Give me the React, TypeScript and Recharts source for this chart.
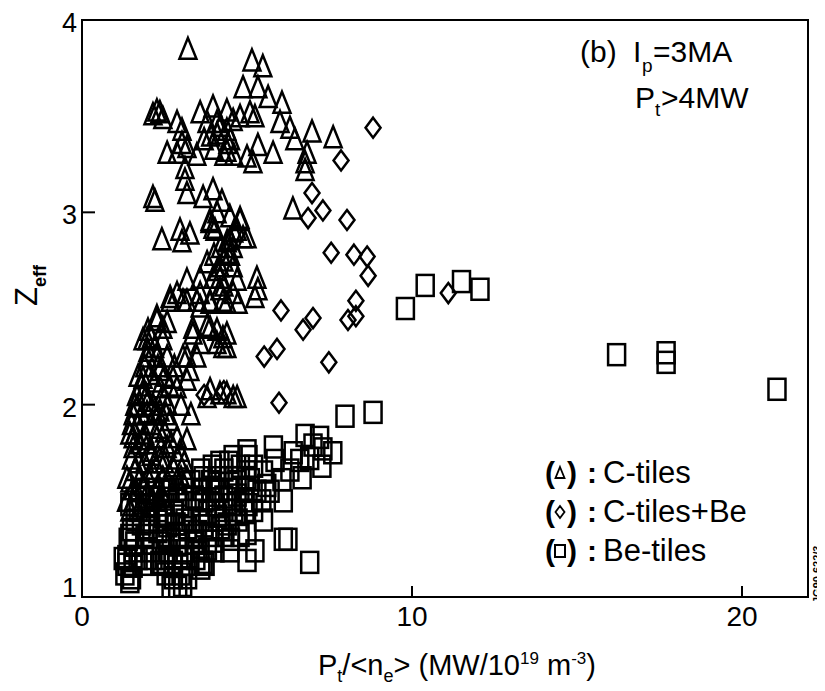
import React from 'react';
import {
  ScatterChart,
  Scatter,
  XAxis,
  YAxis,
  ReferenceArea,
  Legend,
} from 'recharts';

// Zeff versus Pt/<ne> at Ip = 3 MA, Pt > 4 MW, by first-wall configuration.

const xTicks = [0, 10, 20];
const yTicks = [1, 2, 3, 4];

// C-tiles (triangles)
const cTiles: [number, number][] = [
  [3.21, 3.85], [5.15, 3.79], [5.48, 3.76], [4.88, 3.65], [5.33, 3.65], [5.64, 3.6], [6.06, 3.57],
  [6.0, 3.47], [6.3, 3.44], [6.45, 3.38], [6.97, 3.42], [7.61, 3.39], [6.82, 3.31], [6.76, 3.26],
  [6.76, 3.22], [5.79, 3.31], [5.33, 3.35], [5.18, 3.26], [5.0, 3.29],
  [2.27, 3.53], [2.36, 3.52], [2.15, 3.51], [2.45, 3.49], [2.88, 3.47], [3.03, 3.43], [3.58, 3.52],
  [3.97, 3.55], [4.39, 3.53], [4.58, 3.48], [4.09, 3.47], [3.79, 3.47], [4.79, 3.5], [5.09, 3.52],
  [5.24, 3.5], [4.39, 3.43], [4.09, 3.41], [4.42, 3.36], [4.39, 3.32],
  [3.9, 3.4], [4.2, 3.45], [4.5, 3.38], [3.7, 3.38], [4.3, 3.3], [4.6, 3.3], [4.0, 3.33],
  [2.58, 3.31], [2.88, 3.31], [3.18, 3.34], [3.48, 3.3], [3.03, 3.36], [3.12, 3.23], [3.12, 3.17],
  [3.18, 3.1], [2.15, 3.08], [2.21, 3.06], [3.67, 3.08], [3.97, 3.12], [4.24, 3.06], [6.39, 3.02],
  [2.42, 2.86], [2.97, 2.91], [3.27, 2.89], [3.03, 2.85], [3.88, 2.95], [4.09, 3.0], [4.03, 2.91],
  [4.48, 2.98], [4.79, 2.96], [4.7, 2.91], [5.0, 2.87], [4.48, 2.86], [4.39, 2.79], [4.18, 2.72],
  [3.79, 2.74], [3.97, 2.66], [4.58, 2.72], [4.7, 2.65], [5.3, 2.66], [5.33, 2.6], [5.24, 2.56],
  [3.97, 2.92], [3.88, 2.96], [4.79, 2.97], [4.88, 2.87], [4.58, 2.82], [3.58, 2.66], [4.18, 2.66],
  [4.3, 2.75], [4.4, 2.85], [4.5, 2.78], [4.6, 2.9], [4.2, 2.82], [4.1, 2.7], [4.3, 2.62], [4.0, 2.78],
  [3.18, 2.65], [2.88, 2.58], [2.67, 2.56], [3.18, 2.54], [3.58, 2.58], [3.88, 2.54], [4.18, 2.6],
  [4.58, 2.58], [4.39, 2.53], [3.58, 2.51], [2.27, 2.46], [2.58, 2.43], [2.0, 2.39], [1.85, 2.34],
  [3.36, 2.4], [3.79, 2.41], [4.09, 2.39], [4.39, 2.37],
  [2.67, 2.54], [3.06, 2.54], [3.48, 2.54], [3.88, 2.53], [4.27, 2.54], [4.73, 2.53],
  [2.27, 2.44], [2.45, 2.4], [1.97, 2.34], [2.45, 2.34], [3.36, 2.37], [3.88, 2.4], [4.27, 2.35],
  [4.27, 2.3], [1.97, 2.25], [2.58, 2.25], [3.06, 2.25], [3.48, 2.25], [2.06, 2.16], [2.36, 2.18],
  [3.27, 2.18], [1.85, 2.06], [2.36, 2.09], [2.88, 2.09], [3.88, 2.08], [4.39, 2.06], [4.7, 2.04],
  [2.27, 2.25], [3.18, 2.25], [3.58, 2.32], [4.09, 2.32], [4.39, 2.3], [1.85, 2.14], [2.76, 2.14],
  [3.18, 2.13], [3.79, 2.04], [4.58, 2.04], [4.18, 2.06],
  [1.67, 1.99], [1.97, 1.96], [2.36, 1.97], [2.67, 1.92], [1.55, 1.83], [1.85, 1.82], [2.27, 1.83],
  [2.88, 1.83], [3.18, 1.82], [1.55, 1.78], [2.06, 1.76], [2.58, 1.78], [2.97, 1.76],
  [1.6, 2.0], [1.7, 1.9], [1.8, 1.95], [2.0, 2.02], [2.1, 1.9], [2.2, 1.95], [2.3, 1.88], [2.5, 1.86],
  [2.6, 2.0], [1.9, 1.85], [2.0, 1.8], [2.4, 1.78], [2.7, 1.8], [1.5, 1.72], [1.7, 1.7], [2.2, 1.7],
  [2.5, 1.7], [2.9, 1.72], [1.8, 2.1], [2.2, 2.12], [2.5, 2.15], [2.3, 2.2], [3.0, 2.0], [3.3, 1.95],
  [1.36, 1.62], [1.76, 1.62], [2.15, 1.65], [2.45, 1.62], [2.88, 1.61], [3.18, 1.62], [1.55, 1.56],
  [1.97, 1.54], [1.45, 1.45], [1.76, 1.47], [2.15, 1.5],
  [1.5, 1.9], [1.6, 1.85], [1.65, 2.05], [1.75, 1.8], [1.55, 1.95], [1.45, 1.85], [1.7, 2.15],
  [1.9, 2.2], [2.0, 2.28], [2.1, 2.35], [2.2, 2.3], [1.95, 2.05], [2.15, 2.0], [2.3, 1.95],
  [2.45, 2.05], [2.55, 1.95], [2.65, 2.1], [2.8, 2.2], [2.35, 1.72], [2.1, 1.74], [1.9, 1.7],
  [1.6, 1.66], [1.45, 1.6], [1.55, 1.5], [1.65, 1.55], [1.85, 1.58], [2.0, 1.62], [2.3, 1.58],
  [2.6, 1.6], [2.75, 1.68], [3.0, 1.62], [3.1, 1.7], [2.05, 1.45], [2.3, 1.5], [1.35, 1.5],
  [2.45, 1.52],
];

// C-tiles + Be (diamonds)
const cTilesBe: [number, number][] = [
  [8.82, 3.44], [7.85, 3.27], [6.97, 3.1], [7.3, 3.01], [6.85, 2.97], [8.03, 2.96], [7.55, 2.79],
  [8.24, 2.78], [8.64, 2.77], [8.67, 2.67], [8.3, 2.54], [8.3, 2.46], [8.06, 2.44], [6.03, 2.49],
  [7.0, 2.45], [6.7, 2.39], [5.91, 2.29], [5.52, 2.25], [7.48, 2.22], [5.97, 2.01], [11.1, 2.58],
  [3.7, 2.05], [4.3, 2.07],
];

// Be-tiles (squares)
const beTiles: [number, number][] = [
  [16.2, 2.26], [17.7, 2.27], [17.7, 2.22], [21.06, 2.08], [9.8, 2.5], [10.4, 2.62], [11.5, 2.64],
  [12.06, 2.6],
  [7.97, 1.94], [8.82, 1.96], [6.76, 1.84], [7.2, 1.83], [7.0, 1.79], [7.6, 1.75], [7.27, 1.68],
  [5.8, 1.78], [5.85, 1.71], [6.6, 1.71], [6.67, 1.62], [6.06, 1.61], [6.1, 1.5], [5.45, 1.5],
  [6.1, 1.3], [6.24, 1.3], [6.9, 1.18], [5.24, 1.24], [5.0, 1.19], [5.03, 1.73], [5.1, 1.61],
  [4.94, 1.44], [5.0, 1.33],
  [1.5, 1.1], [1.36, 1.21], [1.55, 1.24], [2.77, 1.1], [2.77, 1.18], [2.36, 1.18], [3.2, 1.1],
  [3.67, 1.18], [3.58, 1.24],
  [4.18, 1.7], [4.58, 1.73], [5.0, 1.76], [3.67, 1.62], [4.09, 1.62], [4.58, 1.62], [5.0, 1.62],
  [1.76, 1.56], [2.21, 1.56], [2.67, 1.56], [3.12, 1.56], [3.58, 1.56], [4.03, 1.56], [4.48, 1.56],
  [4.94, 1.56],
  [1.45, 1.48], [2.06, 1.48], [2.52, 1.48], [2.97, 1.48], [3.58, 1.48], [4.03, 1.48], [4.55, 1.48],
  [5.03, 1.48],
  [1.61, 1.4], [2.06, 1.4], [2.52, 1.4], [3.12, 1.4], [3.58, 1.4], [4.18, 1.4], [4.73, 1.4],
  [1.45, 1.32], [1.91, 1.32], [2.52, 1.32], [2.97, 1.32], [3.42, 1.32], [3.88, 1.32], [4.33, 1.32],
  [4.79, 1.32],
  [2.06, 1.24], [2.61, 1.24], [3.12, 1.24], [4.03, 1.24], [4.48, 1.24],
  [1.36, 1.17], [1.91, 1.17], [2.36, 1.17], [2.76, 1.17], [3.27, 1.17], [3.73, 1.17],
  [1.7, 1.45], [2.3, 1.43], [2.8, 1.44], [3.3, 1.45], [3.8, 1.44], [4.3, 1.45], [2.0, 1.36],
  [2.6, 1.37], [3.2, 1.36], [3.7, 1.37], [4.2, 1.36], [1.9, 1.28], [2.4, 1.28], [2.9, 1.27],
  [3.4, 1.28], [4.0, 1.29], [4.5, 1.3], [2.2, 1.52], [2.9, 1.53], [3.4, 1.52], [3.9, 1.51],
  [4.3, 1.52], [4.7, 1.53], [5.3, 1.55], [5.5, 1.65], [5.6, 1.58], [5.2, 1.68], [6.3, 1.66],
  [6.4, 1.75], [6.9, 1.72], [7.3, 1.77], [3.0, 1.12], [2.55, 1.12], [3.45, 1.2], [3.9, 1.6],
  [4.3, 1.66], [4.8, 1.68], [1.3, 1.12], [1.4, 1.3], [1.55, 1.16],
  [1.5, 1.35], [1.7, 1.2], [1.8, 1.38], [2.15, 1.2], [2.3, 1.34], [2.5, 1.2], [2.7, 1.3],
  [2.85, 1.38], [3.05, 1.2], [3.3, 1.4], [3.5, 1.34], [3.6, 1.15], [3.8, 1.25], [4.1, 1.42],
  [4.4, 1.38], [4.6, 1.45], [4.9, 1.5], [5.2, 1.45], [3.3, 1.6], [3.6, 1.66], [3.95, 1.68],
  [4.45, 1.7], [4.7, 1.6], [2.6, 1.55], [1.9, 1.52], [1.6, 1.28], [1.25, 1.2], [1.45, 1.08],
  [2.9, 1.05], [2.7, 1.05], [3.05, 1.06], [2.45, 1.42], [3.7, 1.5], [4.15, 1.55], [5.5, 1.4],
  [5.7, 1.55],
];

const toPoints = (arr: [number, number][]) => arr.map(([x, y]) => ({ x, y }));

const FONT = '"Liberation Sans", Arial, Helvetica, sans-serif';
const INK = '#000';
const MARK_STROKE = 2.5;

const Triangle = (p: any) => {
  const { cx, cy } = p;
  if (cx == null || cy == null) return null;
  return (
    <path
      d={`M${cx},${cy - 11} L${cx + 8.5},${cy + 10} L${cx - 8.5},${cy + 10} Z`}
      fill="none"
      stroke={INK}
      strokeWidth={MARK_STROKE}
    />
  );
};

const Diamond = (p: any) => {
  const { cx, cy } = p;
  if (cx == null || cy == null) return null;
  return (
    <path
      d={`M${cx},${cy - 10} L${cx + 7.5},${cy} L${cx},${cy + 10} L${cx - 7.5},${cy} Z`}
      fill="none"
      stroke={INK}
      strokeWidth={MARK_STROKE}
    />
  );
};

const Square = (p: any) => {
  const { cx, cy } = p;
  if (cx == null || cy == null) return null;
  return (
    <rect x={cx - 8.5} y={cy - 10.5} width={17} height={21} fill="none" stroke={INK} strokeWidth={MARK_STROKE} />
  );
};

const XTick = (p: any) => {
  const { x, y, payload } = p;
  return (
    <g>
      <line x1={x} y1={y} x2={x} y2={y - 11} stroke={INK} strokeWidth={2} />
      <text x={x} y={y + 29} textAnchor="middle" fontFamily={FONT} fontSize={28} fill={INK}>
        {payload.value}
      </text>
    </g>
  );
};

const YTick = (p: any) => {
  const { x, y, payload } = p;
  const base = payload.value === 1 ? y : y + 12;
  return (
    <g>
      <line x1={x} y1={y} x2={x + 13} y2={y} stroke={INK} strokeWidth={2} />
      <text x={x - 5} y={base} textAnchor="end" fontFamily={FONT} fontSize={27} fill={INK}>
        {payload.value}
      </text>
    </g>
  );
};

const legendRows = [
  { key: 'C-tiles', mark: 'tri' },
  { key: 'C-tiles+Be', mark: 'dia' },
  { key: 'Be-tiles', mark: 'sq' },
];

const LegendMark = ({ kind, cx, cy }: { kind: string; cx: number; cy: number }) => {
  if (kind === 'tri')
    return <path d={`M${cx},${cy - 6} L${cx + 4.5},${cy + 5} L${cx - 4.5},${cy + 5} Z`} fill="none" stroke={INK} strokeWidth={1.8} />;
  if (kind === 'dia')
    return <path d={`M${cx},${cy - 6} L${cx + 4.5},${cy} L${cx},${cy + 6} L${cx - 4.5},${cy} Z`} fill="none" stroke={INK} strokeWidth={1.8} />;
  return <rect x={cx - 5} y={cy - 6} width={10} height={12} fill="none" stroke={INK} strokeWidth={2} />;
};

const LegendContent = (props: any) => {
  const names: string[] = (props.payload || []).map((e: any) => e.value);
  return (
    <svg width={270} height={120} style={{ display: 'block', overflow: 'visible' }}>
      {legendRows.map((row, i) => {
        const base = 28 + i * 39;
        const label = names.find((n) => n === row.key) ?? row.key;
        return (
          <g key={row.key} fontFamily={FONT} fill={INK}>
            <text x={4} y={base} fontSize={30} fontWeight="bold">(</text>
            <LegendMark kind={row.mark} cx={19} cy={base - 10} />
            <text x={26} y={base} fontSize={30} fontWeight="bold">)</text>
            <text x={46} y={base} fontSize={30} fontWeight="bold">:</text>
            <text x={62} y={base} fontSize={31}>{label}</text>
          </g>
        );
      })}
    </svg>
  );
};

export default function App() {
  return (
    <div style={{ position: 'relative', width: 825, height: 691, margin: '-8px 0 0 -8px', background: '#fff' }}>
      <ScatterChart width={825} height={691} margin={{ top: 20, right: 17, bottom: 0, left: 0 }}>
        <XAxis
          type="number"
          dataKey="x"
          domain={[0, 22]}
          ticks={xTicks}
          height={94}
          tickSize={0}
          tickMargin={0}
          tickLine={false}
          axisLine={{ stroke: INK, strokeWidth: 2 }}
          tick={<XTick />}
          allowDataOverflow
        />
        <YAxis
          type="number"
          dataKey="y"
          domain={[1, 4]}
          ticks={yTicks}
          width={82}
          tickSize={0}
          tickMargin={0}
          tickLine={false}
          axisLine={{ stroke: INK, strokeWidth: 2 }}
          tick={<YTick />}
          allowDataOverflow
        />
        <ReferenceArea x1={0} x2={22} y1={1} y2={4} fill="none" stroke={INK} strokeWidth={2} />
        <Scatter name="C-tiles" data={toPoints(cTiles)} shape={Triangle} isAnimationActive={false} />
        <Scatter name="C-tiles+Be" data={toPoints(cTilesBe)} shape={Diamond} isAnimationActive={false} />
        <Scatter name="Be-tiles" data={toPoints(beTiles)} shape={Square} isAnimationActive={false} />
        <Legend
          layout="vertical"
          verticalAlign="middle"
          align="center"
          content={<LegendContent />}
          wrapperStyle={{ left: 541, top: 455, width: 270, height: 120 }}
        />
      </ScatterChart>
      <svg
        width={825}
        height={691}
        style={{ position: 'absolute', left: 0, top: 0, pointerEvents: 'none' }}
        fontFamily={FONT}
        fill={INK}
      >
        {/* panel annotation */}
        <text x={580} y={62} fontSize={30}>(b)</text>
        <text x={633} y={62} fontSize={30}>I</text>
        <text x={642} y={72} fontSize={19}>p</text>
        <text x={653} y={62} fontSize={30}>=3MA</text>
        <text x={635} y={108} fontSize={30}>P</text>
        <text x={655} y={116} fontSize={19}>t</text>
        <text x={661} y={108} fontSize={30}>&gt;4MW</text>

        {/* x-axis title */}
        <text x={318} y={675} fontSize={29}>
          P<tspan fontSize={18} dy={7}>t</tspan>
          <tspan dy={-7}>/&lt;n</tspan>
          <tspan fontSize={18} dy={7}>e</tspan>
          <tspan dy={-7}>&gt; (MW/10</tspan>
          <tspan fontSize={17} dy={-11}>19</tspan>
          <tspan dy={11}> m</tspan>
          <tspan fontSize={17} dy={-11}>-3</tspan>
          <tspan dy={11}>)</tspan>
        </text>

        {/* y-axis title */}
        <text transform="translate(37,306) rotate(-90)" fontSize={31}>
          Z<tspan fontSize={18} fontWeight="bold" dy={9}>eff</tspan>
        </text>

        {/* figure reference */}
        <text transform="translate(821,603) rotate(-90)" fontSize={11} fontWeight="bold">JG90.622/3</text>
      </svg>
    </div>
  );
}
